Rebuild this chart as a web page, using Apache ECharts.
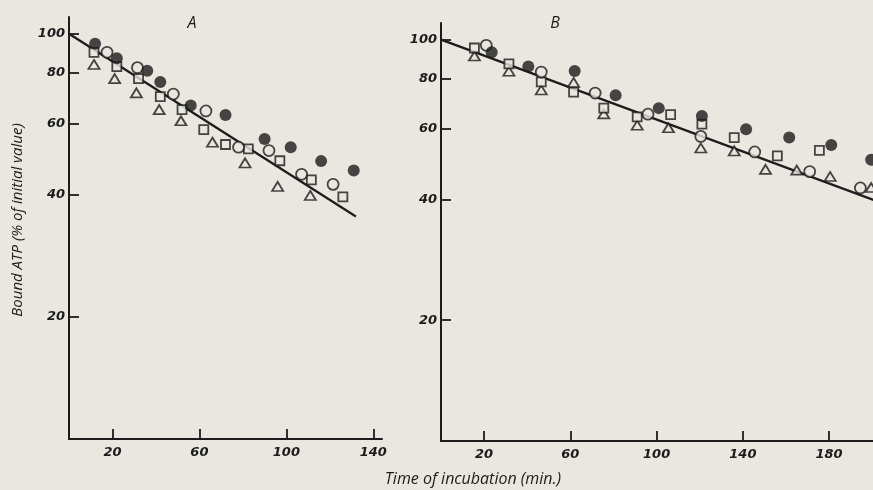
<!DOCTYPE html>
<html>
<head>
<meta charset="utf-8">
<script src="https://cdn.jsdelivr.net/npm/echarts@6/dist/echarts.min.js"></script>
<style>
  html, body { margin: 0; padding: 0; background: #e9e7e0; }
  #chart { width: 873px; height: 490px; }
</style>
</head>
<body>
<div id="chart"></div>
<script>
// Tick positions
const timeTicksA = [20, 60, 100, 140];
const timeTicksB = [20, 60, 100, 140, 180];
const atpTicks = [20, 40, 60, 80, 100];

// Panel A: [time (min), bound ATP (% of initial)]
const aFilled = [[12, 94.5], [22, 87], [36, 81], [42, 76], [56, 66.5], [72, 63], [90, 55], [102, 52.5], [116, 48.5], [131, 46]];
const aOpen = [[17.5, 90], [31.5, 82.5], [48, 71], [63, 64.5], [78, 52.5], [92, 51.5], [107, 45], [121.5, 42.5]];
const aSquare = [[11.5, 90], [22, 83], [32, 77.5], [42, 70], [52, 65], [62, 58], [72, 53.3], [82.5, 52], [97, 48.6], [111.5, 43.6], [126, 39.6]];
const aTriangle = [[11.5, 84], [21, 77.5], [31, 71.5], [41.5, 65], [51.5, 61], [66, 54], [81, 48], [96, 42], [111, 39.9]];
const aFit = [[0, 100], [132, 35.4]];

// Panel B
const bFilled = [[23.5, 93], [40.5, 85.7], [62, 83.5], [81, 72.7], [101, 67.5], [121, 64.5], [141.5, 59.8], [161.5, 57], [181, 54.6], [199.5, 50.2]];
const bOpen = [[21, 96.8], [46.5, 83], [71.5, 73.6], [96, 65.2], [120.5, 57.4], [145.5, 52.5], [171, 46.9], [194.5, 42.7]];
const bSquare = [[15.5, 95.3], [31.5, 87], [46.5, 78.5], [61.5, 74], [75.5, 67.5], [91, 64.2], [106.5, 65], [121, 61.6], [136, 57], [156, 51.3], [175.5, 53]];
const bTriangle = [[15.5, 91], [31.5, 83.4], [46.5, 74.9], [61.5, 78.2], [75.5, 65.3], [91, 61.2], [105.5, 60.3], [120.5, 53.7], [136, 52.8], [150.5, 47.5], [165, 47.3], [180.5, 45.6], [199.5, 42.8]];
const bFit = [[0, 100], [201, 39.8]];

const ink = '#1c1c1c';
const paper = '#e9e7e0';
const labelFont = { fontFamily: 'DejaVu Sans', fontStyle: 'italic', fontWeight: 'bold', fontSize: 13, color: ink };

function timeAxis(gridIndex, max, ticks) {
  return {
    type: 'value', gridIndex: gridIndex, min: 0, max: max,
    axisLine: { onZero: false, lineStyle: { color: ink, width: 2 } },
    axisTick: { inside: true, length: 10, customValues: ticks, lineStyle: { color: ink, width: 1.8 } },
    axisLabel: Object.assign({ customValues: ticks, margin: 7 }, labelFont),
    splitLine: { show: false }
  };
}
function atpAxis(gridIndex) {
  return {
    type: 'log', logBase: 10, gridIndex: gridIndex, min: 10, max: 110,
    axisLine: { onZero: false, lineStyle: { color: ink, width: 2 } },
    axisTick: { inside: true, length: 10, customValues: atpTicks, lineStyle: { color: ink, width: 1.8 } },
    axisLabel: Object.assign({ customValues: atpTicks, margin: 4 }, labelFont),
    splitLine: { show: false }, minorTick: { show: false }
  };
}

function marks(data, idx, kind) {
  const base = { type: 'scatter', data: data, xAxisIndex: idx, yAxisIndex: idx, z: 3, silent: true };
  if (kind === 'filled') return Object.assign(base, { symbol: 'circle', symbolSize: 12, itemStyle: { color: ink } });
  if (kind === 'open') return Object.assign(base, { symbol: 'circle', symbolSize: 11, itemStyle: { color: paper, borderColor: ink, borderWidth: 1.8 } });
  if (kind === 'square') return Object.assign(base, { symbol: 'rect', symbolSize: 9, itemStyle: { color: paper, borderColor: ink, borderWidth: 1.8 } });
  return Object.assign(base, { symbol: 'triangle', symbolSize: [11, 9], itemStyle: { color: paper, borderColor: ink, borderWidth: 1.8 } });
}
function fit(data, idx) {
  return { type: 'line', data: data, xAxisIndex: idx, yAxisIndex: idx, symbol: 'none', z: 2, silent: true,
           lineStyle: { color: ink, width: 2.2 } };
}

const chart = echarts.init(document.getElementById('chart'), null, { renderer: 'canvas' });
chart.setOption({
  backgroundColor: paper,
  animation: false,
  grid: [
    { left: 69, top: 17, width: 313, height: 422, outerBoundsMode: 'none' },
    { left: 441, top: 23, width: 442, height: 418, outerBoundsMode: 'none' }
  ],
  xAxis: [timeAxis(0, 144, timeTicksA), timeAxis(1, 205, timeTicksB)],
  yAxis: [atpAxis(0), atpAxis(1)],
  series: [
    fit(aFit, 0),
    marks(aTriangle, 0, 'triangle'), marks(aSquare, 0, 'square'), marks(aOpen, 0, 'open'), marks(aFilled, 0, 'filled'),
    fit(bFit, 1),
    marks(bTriangle, 1, 'triangle'), marks(bSquare, 1, 'square'), marks(bOpen, 1, 'open'), marks(bFilled, 1, 'filled')
  ],
  graphic: [
    { type: 'text', x: 192, y: 23, style: { text: 'A', textAlign: 'center', textVerticalAlign: 'middle',
      font: 'italic 16px "Open Sans"', fill: ink } },
    { type: 'text', x: 555, y: 23, style: { text: 'B', textAlign: 'center', textVerticalAlign: 'middle',
      font: 'italic 16px "Open Sans"', fill: ink } },
    { type: 'text', x: 18, y: 220, rotation: Math.PI / 2, style: { text: 'Bound ATP (% of initial value)',
      textAlign: 'center', textVerticalAlign: 'middle', font: 'italic 15px "Open Sans"', fill: ink } },
    { type: 'text', x: 473, y: 479, style: { text: 'Time of incubation (min.)',
      textAlign: 'center', textVerticalAlign: 'middle', font: 'italic 16px "Open Sans"', fill: ink } }
  ]
});
</script>
</body>
</html>
